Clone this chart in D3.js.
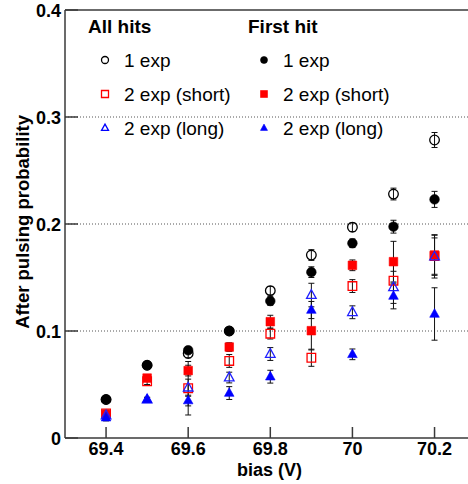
<!DOCTYPE html>
<html>
<head>
<meta charset="utf-8">
<script src="https://cdn.jsdelivr.net/npm/d3@7"></script>
<style>
  html, body { margin: 0; padding: 0; background: #fff; }
  svg { display: block; }
  text { font-family: "Liberation Sans", Arial, Helvetica, sans-serif; fill: #000; }
</style>
</head>
<body>
<svg id="chart" width="468" height="484"></svg>
<script>
// Bias voltages (V)
const bias = [69.4, 69.5, 69.6, 69.7, 69.8, 69.9, 70.0, 70.1, 70.2];

// All hits
const allOneExp       = [0.036, 0.068, 0.079, 0.100, 0.1377, 0.171, 0.197, 0.228, 0.2785];
const allOneExpErr    = [0.003, 0.003, 0.004, 0.003, 0.004, 0.005, 0.004, 0.0055, 0.007];
const allShort        = [0.023, 0.053, 0.0465, 0.072, 0.0975, 0.075, 0.142, 0.147, 0.170];
const allShortErr     = [0.003, 0.003, 0.025, 0.006, 0.005, 0.008, 0.006, 0.015, 0.017];
const allLong         = [0.021, 0.036, 0.047, 0.0565, 0.0785, 0.1336, 0.1175, 0.1408, 0.1695];
const allLongErr      = [0.003, 0.002, 0.008, 0.005, 0.006, 0.011, 0.006, 0.015, 0.020];

// First hit
const firstOneExp     = [0.036, 0.068, 0.082, 0.100, 0.128, 0.155, 0.182, 0.1975, 0.223];
const firstOneExpErr  = [0.003, 0.003, 0.003, 0.003, 0.004, 0.005, 0.004, 0.006, 0.0075];
const firstShort      = [0.022, 0.056, 0.063, 0.085, 0.1087, 0.1003, 0.1614, 0.1648, 0.171];
const firstShortErr   = [0.003, 0.003, 0.005, 0.004, 0.006, 0.018, 0.005, 0.019, 0.019];
const firstLong       = [0.019, 0.036, 0.035, 0.042, 0.0573, 0.1196, 0.0782, 0.1327, 0.1159];
const firstLongErr    = [0.003, 0.002, 0.005, 0.006, 0.006, 0.008, 0.005, 0.012, 0.0245];

// Axis ticks and labels
const xTicks = [69.4, 69.6, 69.8, 70.0, 70.2];
const yTicks = [0, 0.1, 0.2, 0.3, 0.4];
const gridValues = [0.1, 0.2, 0.3];
const legendHeaders = ["All hits", "First hit"];
const legendLabels = ["1 exp", "2 exp (short)", "2 exp (long)"];

const series = [
  { name: "all-1exp",   vals: allOneExp,   errs: allOneExpErr,   shape: "circle",   filled: false, color: "#000000" },
  { name: "first-1exp", vals: firstOneExp, errs: firstOneExpErr, shape: "circle",   filled: true,  color: "#000000" },
  { name: "first-short",vals: firstShort,  errs: firstShortErr,  shape: "square",   filled: true,  color: "#ff0000" },
  { name: "all-short",  vals: allShort,    errs: allShortErr,    shape: "square",   filled: false, color: "#ff0000" },
  { name: "all-long",   vals: allLong,     errs: allLongErr,     shape: "triangle", filled: false, color: "#2020ff" },
  { name: "first-long", vals: firstLong,   errs: firstLongErr,   shape: "triangle", filled: true,  color: "#0000ff" }
];

const svg = d3.select("#chart");
const W = 468;
const plotLeft = 65, plotTop = 10, plotBottom = 438;

const x = d3.scaleLinear().domain([69.3, 70.3]).range([plotLeft, plotLeft + 410.6]);
const y = d3.scaleLinear().domain([0, 0.4]).range([plotBottom, plotTop]);

// Marker path centred at origin
function markerPath(shape, s) {
  const r = s / 2;
  if (shape === "circle") {
    const p = d3.path(); p.arc(0, 0, r, 0, 2 * Math.PI); return p.toString();
  }
  if (shape === "square") {
    return `M${-r},${-r}H${r}V${r}H${-r}Z`;
  }
  // triangle, pointing up
  const h = s * 0.9;
  return `M0,${-h * 0.62}L${r},${h * 0.38}L${-r},${h * 0.38}Z`;
}

function drawMarker(g, shape, filled, color, size) {
  g.append("path")
    .attr("d", markerPath(shape, size))
    .attr("fill", filled ? color : "none")
    .attr("stroke", color)
    .attr("stroke-width", filled ? 0.6 : 1.3);
}

// Dotted grid lines
svg.append("g").selectAll("line").data(gridValues).join("line")
  .attr("x1", plotLeft).attr("x2", W)
  .attr("y1", d => y(d)).attr("y2", d => y(d))
  .attr("stroke", "#555").attr("stroke-width", 1)
  .attr("stroke-dasharray", "1,2");

// Frame: left, top, bottom
const axisColor = "#3a3a3a";
svg.append("line").attr("x1", plotLeft).attr("x2", plotLeft).attr("y1", plotTop).attr("y2", plotBottom)
  .attr("stroke", axisColor).attr("stroke-width", 1.5);
svg.append("line").attr("x1", plotLeft).attr("x2", W).attr("y1", plotTop).attr("y2", plotTop)
  .attr("stroke", axisColor).attr("stroke-width", 1.5);
svg.append("line").attr("x1", plotLeft).attr("x2", W).attr("y1", plotBottom).attr("y2", plotBottom)
  .attr("stroke", axisColor).attr("stroke-width", 1.5);

// Y ticks and labels
const yAxisG = svg.append("g");
yAxisG.selectAll("line").data(yTicks).join("line")
  .attr("x1", plotLeft).attr("x2", plotLeft + 13)
  .attr("y1", d => y(d)).attr("y2", d => y(d))
  .attr("stroke", axisColor).attr("stroke-width", 1.5);
yAxisG.selectAll("text").data(yTicks).join("text")
  .attr("x", plotLeft - 4).attr("y", d => y(d) + 6.5)
  .attr("text-anchor", "end")
  .attr("font-size", 18).attr("font-weight", "bold")
  .text(d => d === 0 ? "0" : d3.format(".1f")(d));

// X ticks and labels
const xAxisG = svg.append("g");
xAxisG.selectAll("line").data(xTicks).join("line")
  .attr("x1", d => x(d)).attr("x2", d => x(d))
  .attr("y1", plotBottom).attr("y2", plotBottom - 11)
  .attr("stroke", axisColor).attr("stroke-width", 1.5);
xAxisG.selectAll("text").data(xTicks).join("text")
  .attr("x", d => x(d)).attr("y", 455)
  .attr("text-anchor", "middle")
  .attr("font-size", 18).attr("font-weight", "bold")
  .text(d => String(+d.toFixed(1)));

// Axis titles
svg.append("text")
  .attr("x", 302).attr("y", 476)
  .attr("text-anchor", "end")
  .attr("font-size", 18).attr("font-weight", "bold")
  .text("bias (V)");
svg.append("text")
  .attr("transform", "translate(28.5,115) rotate(-90)")
  .attr("text-anchor", "end")
  .attr("font-size", 18.5).attr("font-weight", "bold")
  .text("After pulsing probability");

// Error bars and markers
const dataG = svg.append("g");
series.forEach(s => {
  const pts = bias.map((b, i) => ({ b, v: s.vals[i], e: s.errs[i] }));
  const eg = dataG.append("g").attr("class", "err " + s.name);
  pts.forEach(p => {
    const cx = x(p.b), yt = y(p.v + p.e), yb = y(p.v - p.e);
    eg.append("line").attr("x1", cx).attr("x2", cx).attr("y1", yt).attr("y2", yb)
      .attr("stroke", "#111").attr("stroke-width", 1);
    [yt, yb].forEach(yy => eg.append("line")
      .attr("x1", cx - 3).attr("x2", cx + 3).attr("y1", yy).attr("y2", yy)
      .attr("stroke", "#111").attr("stroke-width", 1));
  });
});
series.forEach(s => {
  const mg = dataG.append("g").attr("class", "pts " + s.name);
  bias.forEach((b, i) => {
    const g = mg.append("g").attr("transform", `translate(${x(b)},${y(s.vals[i])})`);
    drawMarker(g, s.shape, s.filled, s.color, s.shape === "square" ? 8.6 : 9.6);
  });
});

// Legend
const legendCols = [
  { header: legendHeaders[0], hx: 88, mx: 105, tx: 124, filled: false },
  { header: legendHeaders[1], hx: 248, mx: 264, tx: 283, filled: true }
];
const legendShapes = [
  { shape: "circle", color: "#000000" },
  { shape: "square", color: "#ff0000" },
  { shape: "triangle", color: "#0000ff" }
];
const rowY = [60, 94, 128];
const legG = svg.append("g");
legendCols.forEach(c => {
  legG.append("text").attr("x", c.hx).attr("y", 32.5)
    .attr("font-size", 19).attr("font-weight", "bold").text(c.header);
  legendLabels.forEach((lab, i) => {
    const g = legG.append("g").attr("transform", `translate(${c.mx},${rowY[i]})`);
    drawMarker(g, legendShapes[i].shape, c.filled, legendShapes[i].color, 7);
    legG.append("text").attr("x", c.tx).attr("y", rowY[i] + 6.5)
      .attr("font-size", 19).text(lab);
  });
});
</script>
</body>
</html>
